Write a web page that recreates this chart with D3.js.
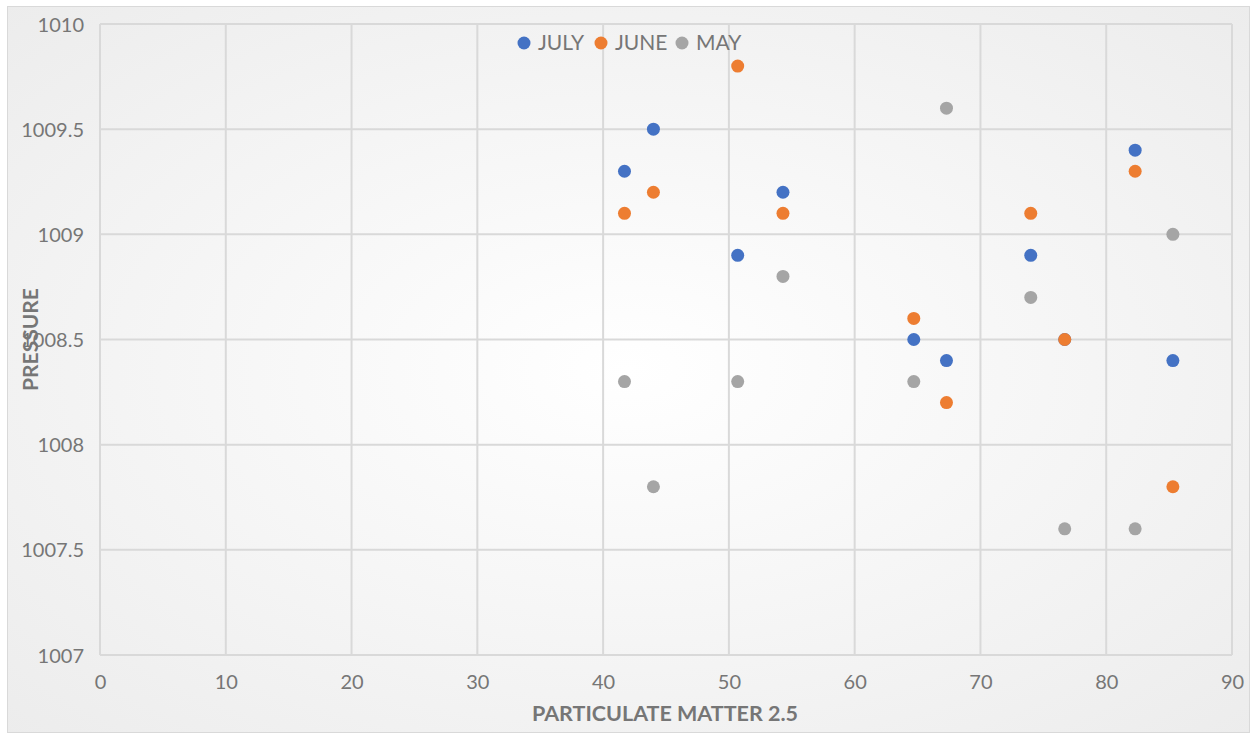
<!DOCTYPE html>
<html>
<head>
<meta charset="utf-8">
<script src="https://cdn.jsdelivr.net/npm/d3@7"></script>
<style>
  html, body { margin: 0; padding: 0; background: #fff; }
  svg { display: block; font-family: Lato, "Open Sans", sans-serif; }
</style>
</head>
<body>
<svg id="chart" width="1253" height="736"></svg>
<script>
// PM2.5 vs. pressure, three months
const pm = [41.7, 44, 50.7, 54.3, 64.7, 67.3, 74, 76.7, 82.3, 85.3];
const julyPressure = [1009.3, 1009.5, 1008.9, 1009.2, 1008.5, 1008.4, 1008.9, 1008.5, 1009.4, 1008.4];
const junePressure = [1009.1, 1009.2, 1009.8, 1009.1, 1008.6, 1008.2, 1009.1, 1008.5, 1009.3, 1007.8];
const mayPressure  = [1008.3, 1007.8, 1008.3, 1008.8, 1008.3, 1009.6, 1008.7, 1007.6, 1007.6, 1009.0];
const seriesNames = ["JULY", "JUNE", "MAY"];
const seriesColors = ["#4472c4", "#ed7d31", "#a5a5a5"];
const xTicks = [0, 10, 20, 30, 40, 50, 60, 70, 80, 90];
const yTicks = [1007, 1007.5, 1008, 1008.5, 1009, 1009.5, 1010];

const series = [julyPressure, junePressure, mayPressure].map((vals, i) => ({
  name: seriesNames[i], color: seriesColors[i],
  points: vals.map((v, j) => ({ x: pm[j], y: v }))
}));

const svg = d3.select("#chart");

// background with soft radial shading
const defs = svg.append("defs");
const grad = defs.append("radialGradient").attr("id", "bg")
  .attr("cx", "50%").attr("cy", "50%").attr("r", "75%");
grad.append("stop").attr("offset", "0%").attr("stop-color", "#ffffff");
grad.append("stop").attr("offset", "100%").attr("stop-color", "#ebebeb");
svg.append("rect").attr("x", 7.5).attr("y", 6.5).attr("width", 1242).attr("height", 726)
  .attr("fill", "url(#bg)").attr("stroke", "#d9d9d9").attr("stroke-width", 1);

const plot = { left: 100, right: 1232, top: 24, bottom: 655 };
const x = d3.scaleLinear().domain([0, 90]).range([plot.left, plot.right]);
const y = d3.scaleLinear().domain([1007, 1010]).range([plot.bottom, plot.top]);

// gridlines
const grid = svg.append("g");
grid.selectAll("line.v").data(xTicks).join("line")
  .attr("x1", d => x(d)).attr("x2", d => x(d))
  .attr("y1", plot.top).attr("y2", plot.bottom)
  .attr("stroke", "#d9d9d9").attr("stroke-width", 2);
grid.selectAll("line.h").data(yTicks).join("line")
  .attr("x1", plot.left).attr("x2", plot.right)
  .attr("y1", d => y(d)).attr("y2", d => y(d))
  .attr("stroke", "#d9d9d9").attr("stroke-width", 2);

// axes (labels only, no domain line)
const xAxis = svg.append("g").attr("transform", `translate(0,${plot.bottom})`)
  .call(d3.axisBottom(x).tickValues(xTicks).tickSize(0).tickPadding(20));
const yAxis = svg.append("g").attr("transform", `translate(${plot.left},0)`)
  .call(d3.axisLeft(y).tickValues(yTicks).tickSize(0).tickPadding(16)
    .tickFormat(d => d3.format("")(d)));
[xAxis, yAxis].forEach(a => {
  a.select(".domain").remove();
  a.selectAll("text").attr("fill", "#767676").attr("font-size", 20)
    .attr("font-family", "Lato, 'Open Sans', sans-serif");
});
yAxis.selectAll("text").attr("dy", "0.35em");

// axis titles
svg.append("text").attr("x", (plot.left + plot.right) / 2 - 1).attr("y", 721)
  .attr("text-anchor", "middle").attr("font-size", 21.5).attr("font-weight", "bold")
  .attr("fill", "#767676").text("PARTICULATE MATTER 2.5");
svg.append("text")
  .attr("transform", `translate(38,${(plot.top + plot.bottom) / 2}) rotate(-90)`)
  .attr("text-anchor", "middle").attr("font-size", 21).attr("font-weight", "bold")
  .attr("fill", "#767676").text("PRESSURE");

// points
series.forEach(s => {
  svg.append("g").selectAll("circle").data(s.points).join("circle")
    .attr("cx", d => x(d.x)).attr("cy", d => y(d.y)).attr("r", 6.5)
    .attr("fill", s.color);
});

// legend
const legendX = [524, 601, 682];
const legend = svg.append("g");
series.forEach((s, i) => {
  const g = legend.append("g").attr("transform", `translate(${legendX[i]},43)`);
  g.append("circle").attr("r", 6.5).attr("fill", s.color);
  g.append("text").attr("x", 14).attr("dy", "0.35em").attr("font-size", 21)
    .attr("fill", "#767676").text(s.name);
});
</script>
</body>
</html>
